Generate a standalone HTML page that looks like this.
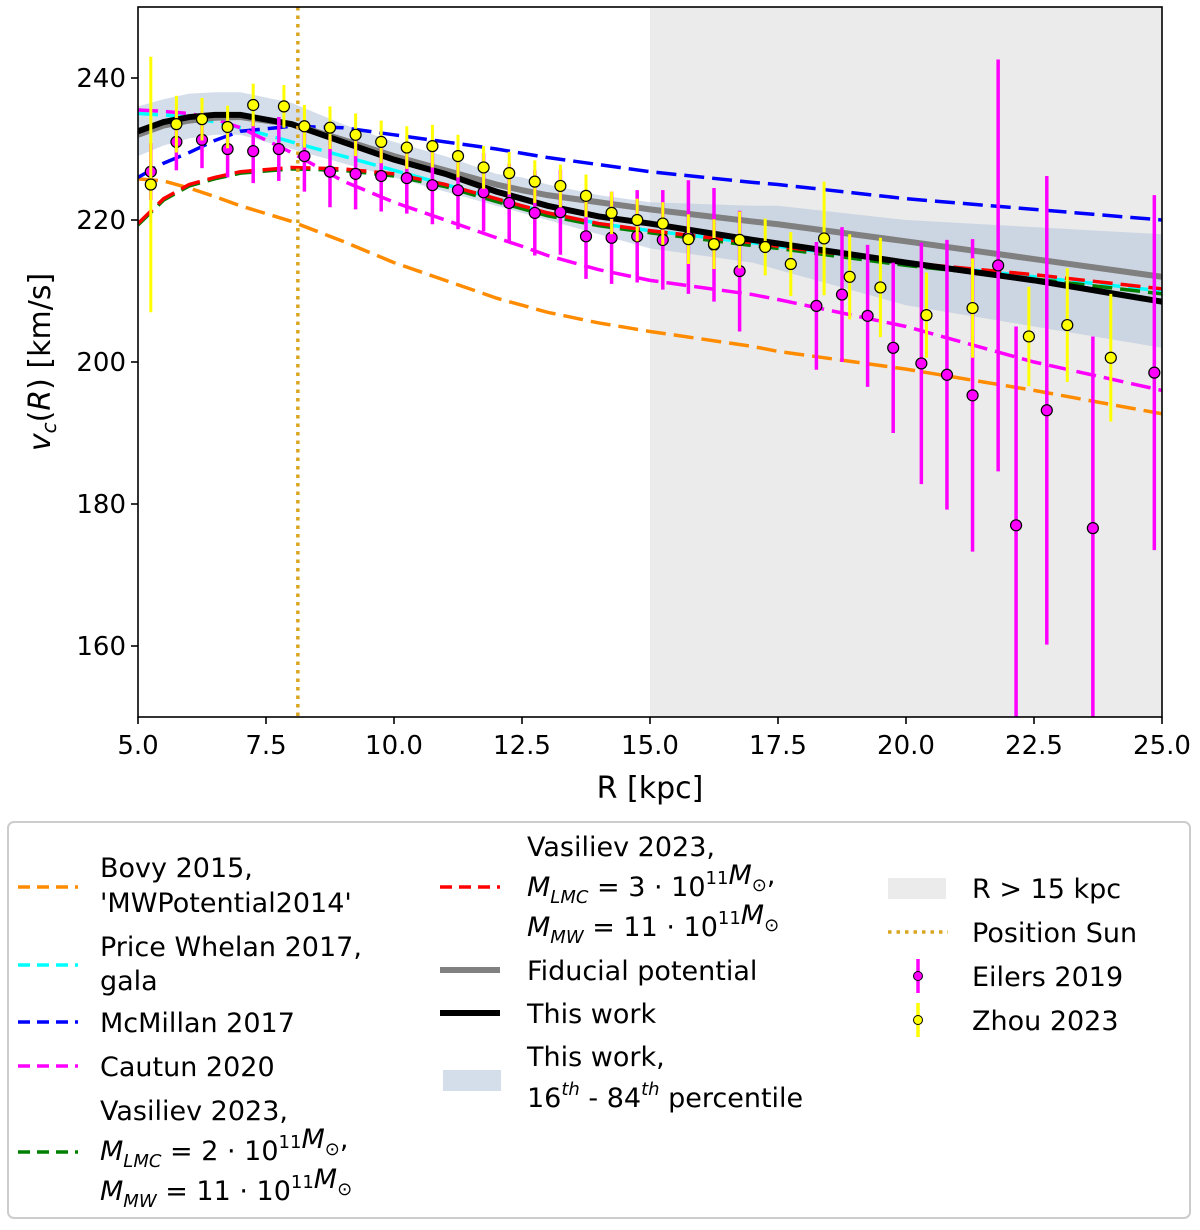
<!DOCTYPE html>
<html><head><meta charset="utf-8"><style>
body{margin:0;background:#fff;}
svg text{font-family:"DejaVu Sans","Liberation Sans",sans-serif;fill:#000;}
</style></head><body>
<svg id="c" width="1200" height="1225" viewBox="0 0 1200 1225">
<rect width="1200" height="1225" fill="#fff"/>
<g id="plot"></g>
<g id="axes"></g>
<g id="legend">
<rect x="8" y="822" width="1182" height="396" rx="6" fill="#fff" stroke="#ccc" stroke-width="2"/>
</g>
</svg>
<script>
const xDomain=[5,25], yDomain=[150,250];
const xTicks=[5,7.5,10,12.5,15,17.5,20,22.5,25];
const xTickLabels=["5.0","7.5","10.0","12.5","15.0","17.5","20.0","22.5","25.0"];
const yTicks=[160,180,200,220,240];
const shadeStart=15, sunR=8.122;
const curveR=[5,5.5,6,6.5,7,8,9,10,11,12,12.5,13,14,15,17,17.5,20,22.5,25];
const bovy=[225.8,225.5,224.5,223.3,222,219.8,217,214,211.5,209,208,207,205.5,204.3,202.2,201.5,199,196,192.7];
const vas3=[219.5,223,225,226,226.8,227.4,227.2,226.5,225,223,222,221,219.5,218.5,216.8,216.3,214,212.3,210.3];
const vas2=[219.3,222.8,224.8,225.8,226.6,227.2,227,226.2,224.7,222.6,221.6,220.6,219.2,218.2,216.4,216,213.6,211.7,209.6];
const price=[235,234.8,234.5,233.8,233,231,229,227,225,223,222,221,219.5,218.5,216.8,216.3,214,212,210];
const mcmillan=[226,228,229.5,231.2,232.5,233.2,233,232,231,230,229.4,228.8,227.8,226.8,225.3,225,223,221.5,220];
const cautun=[235.5,235.3,235,234.2,233,229.5,225.5,222.5,220,217.5,216.3,215,213,211.5,209.5,208.8,205,200,196];
const fiducial=[232,233.3,234,234.4,234.5,233.5,231.3,229,227,225,224.2,223.5,222.5,221.5,219.8,219.4,217,214.5,212];
const thiswork=[232.5,233.8,234.5,234.8,234.8,233.5,231,228.5,226.5,224,223,222,220.5,219.5,217.2,216.7,214,211.5,208.5];
const bandLo=[229,230.5,231.5,232,232,230,228,226,224,222,221,220,218,216,214,213,208,205,202];
const bandHi=[236,237,237.8,238,238,236.5,233.5,231,229,226.5,226,225,223.5,222.5,222,222,220,219,218];
const eilersR=[5.25,5.75,6.25,6.75,7.25,7.75,8.25,8.75,9.25,9.75,10.25,10.75,11.25,11.75,12.25,12.75,13.25,13.75,14.25,14.75,15.25,15.75,16.25,16.75,18.25,18.75,19.25,19.75,20.3,20.8,21.3,21.8,22.15,22.75,23.65,24.85];
const eilersV=[226.8,231,231.3,230,229.7,230,229,226.8,226.5,226.2,225.9,224.9,224.2,223.9,222.4,221,221.1,217.7,217.5,217.7,217.2,217.6,216.5,212.8,207.9,209.5,206.5,202,199.8,198.2,195.3,213.6,177,193.2,176.6,198.5];
const eilersE=[4,4,4,4,4.5,4.5,5,5,5,5,5,5.5,5.5,5.5,5.5,6,6,6,6.5,6.5,7,8,8,8.5,9,9.5,10,12,17,19,22,29,28,33,27,25];
const zhouR=[5.25,5.75,6.25,6.75,7.25,7.85,8.25,8.75,9.25,9.75,10.25,10.75,11.25,11.75,12.25,12.75,13.25,13.75,14.25,14.75,15.25,15.75,16.25,16.75,17.25,17.75,18.4,18.9,19.5,20.4,21.3,22.4,23.15,24];
const zhouV=[225,233.5,234.2,233.1,236.2,236,233.2,233,232,231,230.2,230.4,229,227.4,226.6,225.4,224.8,223.4,221,220,219.5,217.3,216.6,217.2,216.2,213.8,217.4,212,210.5,206.6,207.6,203.6,205.2,200.6];
const zhouE=[18,4,3,3,3,3,3,3,3,3,3,3,3,3,3,3,3,3,3,3,3,3.5,3.5,4,4,4.5,8,6,7,6,7,7,8,9];

const X0=138,X1=1162,Y0=717,Y1=7;
const sx=v=>X0+(v-xDomain[0])/(xDomain[1]-xDomain[0])*(X1-X0);
const sy=v=>Y0-(v-yDomain[0])/(yDomain[1]-yDomain[0])*(Y0-Y1);
const NS="http://www.w3.org/2000/svg";
const DASH='20 8';
function mk(tag,attrs,parent){const e=document.createElementNS(NS,tag);for(const k in attrs)e.setAttribute(k,attrs[k]);parent.appendChild(e);return e;}
const plot=document.getElementById('plot'), axes=document.getElementById('axes'), leg=document.getElementById('legend');

const cp=mk('clipPath',{id:'clip'},plot);mk('rect',{x:X0,y:Y1,width:X1-X0,height:Y0-Y1},cp);
const g=mk('g',{'clip-path':'url(#clip)'},plot);
let e=mk('rect',{x:sx(shadeStart),y:Y1,width:sx(xDomain[1])-sx(shadeStart),height:Y0-Y1,fill:'#ebebeb'},g);



let d='';curveR.forEach((r,i)=>d+=(i?'L':'M')+sx(r)+','+sy(bandHi[i]));
for(let i=curveR.length-1;i>=0;i--)d+='L'+sx(curveR[i])+','+sy(bandLo[i]);
e=mk('path',{d:d+'Z',fill:'#b8c8dc',opacity:0.6},g);



function line(vals,color,w,dash,name){let p='';curveR.forEach((r,i)=>p+=(i?'L':'M')+sx(r)+','+sy(vals[i]));
 const el=mk('path',{d:p,fill:'none',stroke:color,'stroke-width':w,'stroke-dasharray':dash||'none'},g);
 
 }
line(bovy,'#ff8c00',3.5,DASH,'line-bovy-2015');
line(price,'#00ffff',3.5,DASH,'line-price-whelan-2017');
line(mcmillan,'#0000ff',3.5,DASH,'line-mcmillan-2017');
line(cautun,'#ff00ff',3.5,DASH,'line-cautun-2020');
line(vas2,'#008000',3.5,DASH,'line-vasiliev-2023-lmc2');
line(vas3,'#ff0000',3.5,DASH,'line-vasiliev-2023-lmc3');
line(fiducial,'#808080',6,null,'line-fiducial-potential');
line(thiswork,'#000000',6,null,'line-this-work');

e=mk('line',{x1:sx(sunR),x2:sx(sunR),y1:Y1,y2:Y0,stroke:'#daa520','stroke-width':3.5,'stroke-dasharray':'3.5 5'},g);



function pts(R,V,E,color,lw,name){R.forEach((r,i)=>{
 const b=mk('line',{x1:sx(r),x2:sx(r),y1:sy(V[i]-E[i]),y2:sy(V[i]+E[i]),stroke:color,'stroke-width':lw},g);
 
 
 const c=mk('circle',{cx:sx(r),cy:sy(V[i]),r:5.5,fill:color,stroke:'#000','stroke-width':1.2},g);
 
 });}
pts(eilersR,eilersV,eilersE,'#ff00ff',3.5,'eilers-2019');
pts(zhouR,zhouV,zhouE,'#ffff00',3,'zhou-2023');

e=mk('rect',{x:X0,y:Y1,width:X1-X0,height:Y0-Y1,fill:'none',stroke:'#000','stroke-width':1.6},axes);


xTicks.forEach((t,i)=>{mk('line',{x1:sx(t),x2:sx(t),y1:Y0,y2:Y0+7,stroke:'#000','stroke-width':1.6},axes);
 const tx=mk('text',{x:sx(t),y:Y0+37,'font-size':26,'text-anchor':'middle'},axes);tx.textContent=xTickLabels[i];
 
 });
yTicks.forEach(t=>{mk('line',{x1:X0-7,x2:X0,y1:sy(t),y2:sy(t),stroke:'#000','stroke-width':1.6},axes);
 const tx=mk('text',{x:X0-12,y:sy(t)+9,'font-size':26,'text-anchor':'end'},axes);tx.textContent=t;
 
 });
let t=mk('text',{x:650,y:798,'font-size':30,'text-anchor':'middle'},axes);t.textContent='R [kpc]';


t=mk('text',{transform:'translate(50,362) rotate(-90)','font-size':30,'text-anchor':'middle'},axes);
t.innerHTML='<tspan font-style="italic">v</tspan><tspan font-style="italic" font-size="20" dy="6">c</tspan><tspan dy="-6">(</tspan><tspan font-style="italic">R</tspan><tspan>) [km/s]</tspan>';



function lt(x,y,html,name){const el=mk('text',{x:x,y:y,'font-size':27},leg);el.innerHTML=html;
 
 }
function ll(x,y,color,w,dash,name){const el=mk('line',{x1:x,x2:x+60,y1:y,y2:y,stroke:color,'stroke-width':w,'stroke-dasharray':dash||'none'},leg);
 
 }
const M=(a)=>'<tspan font-style="italic">M</tspan><tspan font-style="italic" font-size="18" dy="7">'+a+'</tspan><tspan dy="-7"> = </tspan>';
const S='<tspan font-style="italic">M</tspan><tspan font-size="18" dy="7">⊙</tspan>';
const LD='12 7';
ll(18,887,'#ff8c00',3.5,LD,'legend-bovy-swatch');
lt(100,877,'Bovy 2015,','legend-bovy-text');lt(100,912,"'MWPotential2014'",'legend-bovy-text2');
ll(18,965,'#00ffff',3.5,LD,'legend-price-swatch');
lt(100,956,'Price Whelan 2017,','legend-price-text');lt(100,990,'gala','legend-price-text2');
ll(18,1022,'#0000ff',3.5,LD,'legend-mcmillan-swatch');lt(100,1032,'McMillan 2017','legend-mcmillan-text');
ll(18,1066,'#ff00ff',3.5,LD,'legend-cautun-swatch');lt(100,1076,'Cautun 2020','legend-cautun-text');
ll(18,1152,'#008000',3.5,LD,'legend-vasiliev2-swatch');
lt(100,1120,'Vasiliev 2023,','legend-vasiliev2-text');
lt(100,1160,M('LMC')+'<tspan>2 · 10</tspan><tspan font-size="18" dy="-12">11</tspan><tspan dy="12"></tspan>'+S+'<tspan dy="-7">,</tspan>','legend-vasiliev2-mlmc');
lt(100,1200,M('MW')+'<tspan>11 · 10</tspan><tspan font-size="18" dy="-12">11</tspan><tspan dy="12"></tspan>'+S,'legend-vasiliev2-mmw');
ll(440,887,'#ff0000',3.5,LD,'legend-vasiliev3-swatch');
lt(527,856,'Vasiliev 2023,','legend-vasiliev3-text');
lt(527,896,M('LMC')+'<tspan>3 · 10</tspan><tspan font-size="18" dy="-12">11</tspan><tspan dy="12"></tspan>'+S+'<tspan dy="-7">,</tspan>','legend-vasiliev3-mlmc');
lt(527,936,M('MW')+'<tspan>11 · 10</tspan><tspan font-size="18" dy="-12">11</tspan><tspan dy="12"></tspan>'+S,'legend-vasiliev3-mmw');
ll(440,970,'#808080',6,null,'legend-fiducial-swatch');lt(527,980,'Fiducial potential','legend-fiducial-text');
ll(440,1013,'#000000',6,null,'legend-thiswork-swatch');lt(527,1023,'This work','legend-thiswork-text');
e=mk('rect',{x:443,y:1070,width:58,height:21,fill:'#b8c8dc',opacity:0.6},leg);


lt(527,1066,'This work,','legend-band-text');
lt(527,1107,'16<tspan font-style="italic" font-size="18" dy="-12">th</tspan><tspan dy="12"> - 84</tspan><tspan font-style="italic" font-size="18" dy="-12">th</tspan><tspan dy="12"> percentile</tspan>','legend-band-text2');
e=mk('rect',{x:888,y:878,width:58,height:21,fill:'#ebebeb'},leg);


lt(972,898,'R &gt; 15 kpc','legend-shade-text');
ll(888,932,'#daa520',3.5,'3.5 5','legend-sun-swatch');lt(972,942,'Position Sun','legend-sun-text');
[[976,'#ff00ff','Eilers 2019','legend-eilers'],[1020,'#ffff00','Zhou 2023','legend-zhou']].forEach(a=>{
 const l=mk('line',{x1:918,x2:918,y1:a[0]-17,y2:a[0]+17,stroke:a[1],'stroke-width':3.5},leg);
 
 
 mk('circle',{cx:918,cy:a[0],r:4.5,fill:a[1],stroke:'#000','stroke-width':1},leg);
 lt(972,a[0]+10,a[2],a[3]+'-text');});
</script>
</body></html>
